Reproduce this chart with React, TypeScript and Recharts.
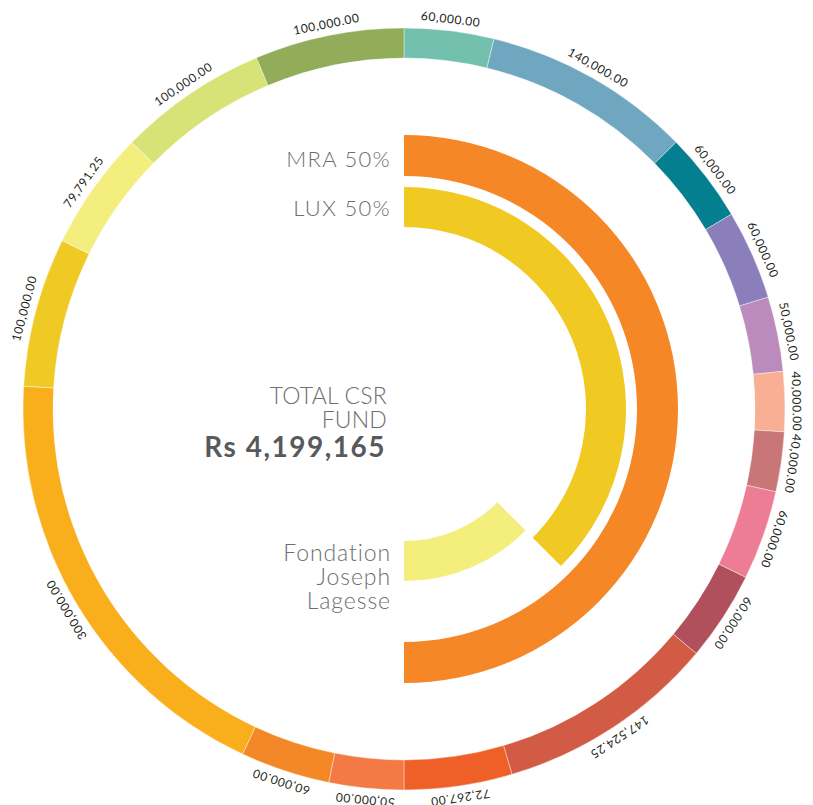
import React from 'react';
import { PieChart, Pie, Cell } from 'recharts';

// Outer ring: project amounts, clockwise from 12 o'clock
const outerValues = [
  60000, 140000, 60000, 60000, 50000, 40000, 40000, 60000, 60000,
  147524.25, 72267, 50000, 60000, 300000, 100000, 79791.25, 100000, 100000,
];
const outerColors = [
  '#73C0AF', '#70A7C0', '#037F8F', '#8A7FBB', '#BA8BBC', '#F8AF94', '#C87677', '#EC7D95', '#B0505C',
  '#D15B44', '#EF5F28', '#F47A45', '#F48828', '#F9AE1C', '#F0CA24', '#F4EE7E', '#D8E377', '#91AD5A',
];

// Inner arcs (share of a full turn, in %)
const mraShare = [50, 50];
const luxShare = [37.5, 62.5];
const fondationShare = [37.5, 12.5, 50];

const innerColors = { mra: '#F58727', lux: '#F0CA22', fondation: '#F4EE7D' };

const outerData = outerValues.map((v, i) => ({ name: `p${i}`, value: v }));
const mraData = mraShare.map((v, i) => ({ name: i === 0 ? 'MRA' : 'rest', value: v }));
const luxData = luxShare.map((v, i) => ({ name: i === 0 ? 'LUX' : 'rest', value: v }));
const fondData = fondationShare.map((v, i) => ({ name: i === 1 ? 'Fondation' : 'rest', value: v }));

const CX = 404;
const CY = 409;
const RAD = Math.PI / 180;
const fmt = (v: number) =>
  v.toLocaleString('en-US', { minimumFractionDigits: 2, maximumFractionDigits: 2 });

const renderOuterLabel = (props: any) => {
  const { cx, cy, midAngle, outerRadius, value } = props;
  const r = outerRadius + 12;
  const x = cx + r * Math.cos(-midAngle * RAD);
  const y = cy + r * Math.sin(-midAngle * RAD);
  const rot = 90 - midAngle;
  return (
    <text
      x={x}
      y={y}
      textAnchor="middle"
      dominantBaseline="central"
      transform={`rotate(${rot}, ${x}, ${y})`}
      fontFamily="Lato, sans-serif"
      fontSize={12}
      letterSpacing={0.6}
      fill="#231F20"
    >
      {fmt(value)}
    </text>
  );
};

const textFont = 'Lato, sans-serif';

export default function App() {
  return (
    <div style={{ position: 'absolute', left: 0, top: 0, width: 813, height: 805, background: '#fff' }}>
      <PieChart width={813} height={805} margin={{ top: 0, right: 0, bottom: 0, left: 0 }}>
        <Pie
          data={outerData}
          dataKey="value"
          cx={CX}
          cy={CY}
          startAngle={90}
          endAngle={-270}
          innerRadius={351}
          outerRadius={381}
          stroke="#ffffff"
          strokeWidth={0.4}
          label={renderOuterLabel}
          labelLine={false}
          isAnimationActive={false}
        >
          {outerData.map((d, i) => (
            <Cell key={d.name} fill={outerColors[i]} />
          ))}
        </Pie>
        <Pie
          data={mraData}
          dataKey="value"
          cx={CX}
          cy={CY}
          startAngle={90}
          endAngle={-270}
          innerRadius={233}
          outerRadius={274}
          stroke="none"
          isAnimationActive={false}
        >
          {mraData.map((d, i) => (
            <Cell key={i} fill={i === 0 ? innerColors.mra : 'transparent'} />
          ))}
        </Pie>
        <Pie
          data={luxData}
          dataKey="value"
          cx={CX}
          cy={CY}
          startAngle={90}
          endAngle={-270}
          innerRadius={182}
          outerRadius={222}
          stroke="none"
          isAnimationActive={false}
        >
          {luxData.map((d, i) => (
            <Cell key={i} fill={i === 0 ? innerColors.lux : 'transparent'} />
          ))}
        </Pie>
        <Pie
          data={fondData}
          dataKey="value"
          cx={CX}
          cy={CY}
          startAngle={90}
          endAngle={-270}
          innerRadius={132}
          outerRadius={172}
          stroke="none"
          isAnimationActive={false}
        >
          {fondData.map((d, i) => (
            <Cell key={i} fill={i === 1 ? innerColors.fondation : 'transparent'} />
          ))}
        </Pie>
      </PieChart>
      <svg
        width={813}
        height={805}
        style={{ position: 'absolute', left: 0, top: 0, pointerEvents: 'none' }}
      >
        <g fontFamily={textFont} fill="#6D6E70" textAnchor="end" fontWeight={300}>
          <text x={391} y={167} fontSize={22} letterSpacing={1.3}>MRA 50%</text>
          <text x={391} y={216} fontSize={22} letterSpacing={1.3}>LUX 50%</text>
          <text x={387} y={404} fontSize={23} letterSpacing={0.2}>TOTAL CSR</text>
          <text x={387} y={428} fontSize={23} letterSpacing={0.2}>FUND</text>
          <text x={391} y={561} fontSize={23} letterSpacing={0.9}>Fondation</text>
          <text x={391} y={585} fontSize={23} letterSpacing={0.9}>Joseph</text>
          <text x={391} y={609} fontSize={23} letterSpacing={0.9}>Lagesse</text>
        </g>
        <text
          x={386}
          y={457}
          fontFamily={textFont}
          fontSize={28}
          fontWeight={700}
          letterSpacing={1.5}
          fill="#58595B"
          textAnchor="end"
        >
          Rs 4,199,165
        </text>
      </svg>
    </div>
  );
}
